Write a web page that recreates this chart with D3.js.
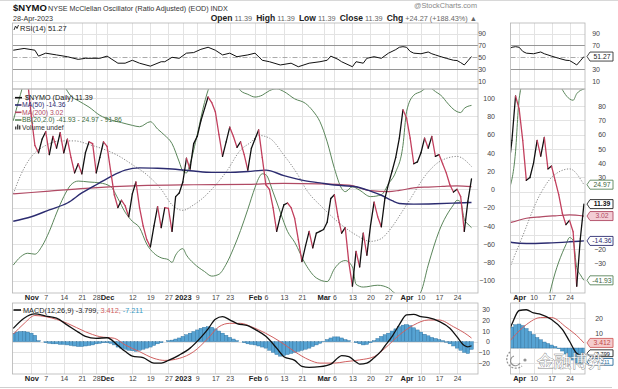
<!DOCTYPE html>
<html>
<head>
<meta charset="utf-8">
<script src="https://d3js.org/d3.v7.min.js"></script>
<style>
body { margin: 0; background: #fff; }
svg text { font-family: "Liberation Sans", Arial, sans-serif; }
</style>
</head>
<body>
<svg id="chart" width="618" height="389"></svg>
<script>
// day index: 0 = Nov 1 2022 (trading days), first value is Oct 25
var firstDay = -5;
var tickDays   = [0,4,9,14,18,21,28,33,38,42,46,51,55,62,65,70,75,81,84,89,94,99,104,108,113,118];
var tickLabels = ["Nov","7","14","21","28","Dec","12","19","27","2023","9","17","23","Feb","6","13","21","Mar","6","13","20","27","Apr","10","17","24"];
var monthLabels = ["Nov","Dec","2023","Feb","Mar","Apr"];

// $NYMO daily close
var nymo = [
  112,120,126,122,118,80,48,40,55,63,
  38,58,45,62,40,55,35,18,28,17,
  40,52,50,18,35,52,47,20,-6,-20,
  -12,-18,-30,-5,8,-20,-40,-55,-63,-40,
  -19,-42,-20,-21,-46,-8,-4,8,34,22,
  50,58,75,88,101,95,85,60,36,52,
  68,58,46,52,38,21,45,55,65,35,
  5,0,-20,-46,-30,-17,-15,-20,-32,-55,
  -79,-62,-46,-64,-48,-46,-44,-36,-10,-6,
  -30,-48,-42,-80,-106,-68,-85,-48,-72,-40,
  -14,-30,-41,-10,6,20,35,56,87,78,
  56,28,30,40,56,45,58,36,38,28,
  18,5,-3,0,-8,-46,-12.88,11.39
];

// indicator readings [day, value]
var ma50 = [[-5,-35],[0,-30],[5,-22.5],[10,-15],[14,-4],[18,5],[22,14],[26,21],[30,23.5],[35,23],[40,22],[45,20],[50,18.5],[55,18.5],[60,19.5],[65,21],[70,15],[75,10],[80,7],[84,4.7],[90,2.8],[94,-2],[97,-6.5],[100,-12.5],[102,-15.5],[106,-16.2],[112,-15.8],[118,-15],[122,-14.36]];
var ma200 = [[-5,-5],[5,-2],[15,1],[30,4],[45,5],[60,5.5],[70,6.5],[80,6],[88,4.5],[94,-1.5],[99,-2.5],[102,-1.2],[106,1.5],[110,2.5],[114,3.2],[118,3.8],[122,3.02]];
var bbUpper = [[-5,75],[-3,104],[-1,130],[1,148],[4,145],[7,128],[9,114],[11,102],[13,97],[16,90],[19,81],[22,76],[25,73],[28,70],[30,68.5],[33,74],[35,66],[37,59],[39,50],[41,30],[42,20],[43,18],[44,28],[46,60],[48,95],[50,118],[53,128],[56,120],[58,108],[60,104],[62,101],[64,103],[66,108],[68,110],[70,107],[73,99],[76,94],[78,86],[80,74],[82,52],[84,23],[86,1],[87,-2.6],[89,2.8],[91,-1],[94,-8],[97,-6],[99,6],[101,19],[103,48],[104,85],[106,103],[108,107],[110,112],[112,107],[114,101],[115,96],[118,85],[119,84],[120,88.6],[122,91.86]];
var bbMiddle = [[-5,-5],[-3,15],[-1,30],[1,40],[4,48],[8,53],[12,53],[16,49],[20,44],[24,37],[28,27],[32,16],[36,0],[39,-17],[42,-23],[45,-17],[48,-8],[50,0],[54,19],[58,43],[61,52],[63,59],[66,56],[70,37.5],[74,15],[76,1],[81,-21],[86,-39],[90,-50],[94,-57],[97,-54],[99,-46],[104,-17],[110,19],[113,30],[118,36],[122,24.97]];
var bbLower = [[-5,-83],[-3,-74],[-1,-70],[1,-71],[3,-62],[5,-46],[7,-26],[9,-8],[11,5],[13,9],[16,8],[19,7],[22,3],[24,-10],[26,-25],[28,-35],[30,-42],[32,-60],[34,-70],[36,-75],[38,-77],[39,-80],[40,-72],[42,-65],[43,-72],[45,-81],[48,-90],[50,-95],[52,-93],[54,-82],[56,-65],[58,-45],[60,-22],[62,2],[63,12],[64,17],[65,16],[67,-3],[69,-25],[71,-46],[73,-58],[76,-82],[79,-97],[82,-101],[84,-87],[86,-79],[87,-78],[89,-85],[90,-104],[92,-107],[96,-105],[99,-108],[101,-115],[104,-125],[106,-120],[108,-112],[110,-83],[113,-46],[117,-17],[118,-12],[119,-14],[120,-33],[121,-38],[122,-41.93]];
var rsi = [[-5,62],[-2,65],[1,62],[2,52],[4,57],[7,54],[10,51],[13,46.5],[15,48.3],[19,48.3],[21,52],[24,40],[26,40],[28,45],[30,40],[33,35],[36,42.5],[37,42.5],[39,50],[41,48.3],[43,57],[45,58],[47,63.5],[49,67],[51,62],[53,54],[55,57],[57,51],[60,54],[62,57],[64,45],[66,42.5],[69,37],[72,40],[74,34],[77,40],[80,42.5],[82,45],[83,52],[85,46.6],[86,42.5],[89,34],[90,42.5],[92,40],[93,48.3],[95,51],[97,48.3],[99,57],[101,63],[102,67],[103,68],[104,67],[105,60],[106,57],[108,56],[110,59],[111,56],[112,54],[113,52],[115,48.3],[117,45],[118,44.5],[119,41],[120,37],[121,44],[122,51.27]];
var macd = [[-5,12.5],[-2,22],[1,26],[4,24],[7,22],[10,15.5],[13,9],[15,5],[18,3.2],[21,3.7],[24,-3.5],[26,-9],[28,-13.5],[31,-15],[34,-20],[36,-20],[38,-17.5],[41,-12.5],[44,-6],[47,4],[49,12],[51,21],[53,23.4],[55,20.5],[57,17],[60,15],[62,11.5],[65,5],[68,-6],[70,-14],[73,-17.5],[75,-23],[77,-24],[80,-23.4],[83,-21],[85,-15],[86,-13],[88,-14],[90,-19],[91,-21],[93,-20],[95,-15],[97,-8.5],[98,-4],[100,5],[102,16],[104,25],[106,25.5],[108,23.4],[110,22.5],[113,19],[116,12.5],[118,4.5],[120,-3.5],[121,-4.8],[122,-3.799]];
var signal = [[-5,7],[-2,17],[1,24.5],[4,23.4],[10,17.2],[15,9.3],[19,4.7],[23,3.2],[26,-3],[30,-9.3],[34,-15.6],[37,-17.5],[41,-15.6],[45,-9.3],[49,3.2],[52,14],[55,17.2],[58,17.2],[61,14],[65,7.8],[69,0],[73,-9.3],[77,-17],[80,-20],[84,-20],[87,-18.7],[91,-17],[95,-14],[98,-6.2],[102,6.3],[106,15.6],[110,20.3],[113,20.3],[117,14],[121,6],[122,3.412]];
var hist = [
  8,9,9.5,9.5,9,8,6,1,0,-1,
  -1.5,-2,-2,-2.5,-2.5,-3,-3.5,-4,-4.5,-4.5,
  -4,-3.5,-3,-2,-1.5,-1,-1,-1.5,-3,-5,
  -6,-7,-8,-8.5,-9,-8,-7,-6,-5,-3.5,
  -2,-1,0,1,1.5,2.5,3.5,5,6.5,8,
  9.5,11,12.5,13.5,14,13.5,12,10,8,6,
  4,2.5,1,0,-1,-2,-2.5,-3,-4,-5,
  -6,-8,-10,-12,-13.5,-13,-12,-11,-10,-9,
  -8,-7,-6,-4.5,-3,-1.5,0.5,2,3.5,4.5,
  4.5,3.5,2,1,0,-1,-2,-3,-2.5,-1,
  1,3,5,6.5,8,10,12,14,15.5,16,
  15,13,11,9,7,5.5,4,3,2,1,
  -0.5,-2,-4,-6,-8,-10,-11,-7.211
];

var cRed = "#c2405e", cNavy = "#2c2c70", cMa200 = "#b04a64", cBB = "#5a855a";

var svg = d3.select("#chart");
var xLeft = d3.scaleLinear().domain([-5.21, 123.8]).range([12.5, 478]);
var xRight = d3.scaleLinear().domain([101.6, 122.3]).range([510.5, 585]);
var clipN = 0;

function makePanel(xs, top, bottom, domain) {
  var id = "clip" + (clipN++);
  var r = xs.range();
  svg.append("clipPath").attr("id", id).append("rect")
    .attr("x", r[0]).attr("y", top).attr("width", r[1] - r[0]).attr("height", bottom - top);
  var p = {x: xs, y: d3.scaleLinear().domain(domain).range([bottom, top]),
           x0: r[0], x1: r[1], top: top, bottom: bottom};
  p.grid = svg.append("g");
  p.g = svg.append("g").attr("clip-path", "url(#" + id + ")");
  return p;
}

function drawGrid(p, hvals) {
  p.grid.selectAll(".h").data(hvals).enter().append("line")
    .attr("x1", p.x0).attr("x2", p.x1)
    .attr("y1", function(d) { return Math.round(p.y(d)) + 0.5; })
    .attr("y2", function(d) { return Math.round(p.y(d)) + 0.5; })
    .attr("stroke", "#e3e3e3").attr("stroke-width", 1);
  var dom = p.x.domain();
  var vd = tickDays.filter(function(d) { return d >= dom[0] && d <= dom[1]; });
  p.grid.selectAll(".v").data(vd).enter().append("line")
    .attr("x1", function(d) { return Math.round(p.x(d)) + 0.5; })
    .attr("x2", function(d) { return Math.round(p.x(d)) + 0.5; })
    .attr("y1", p.top).attr("y2", p.bottom)
    .attr("stroke", "#e3e3e3").attr("stroke-width", 1);
}

function drawBorder(p) {
  svg.append("rect").attr("x", p.x0).attr("y", p.top)
    .attr("width", p.x1 - p.x0).attr("height", p.bottom - p.top)
    .attr("fill", "none").attr("stroke", "#b4b4b4").attr("stroke-width", 0.8);
}

function yLabels(p, vals, xr) {
  var ax = svg.append("g").attr("transform", "translate(" + xr + ",0)")
    .call(d3.axisRight(p.y).tickValues(vals).tickSize(0).tickPadding(0));
  ax.select(".domain").remove();
  ax.attr("font-family", "DejaVu Sans, sans-serif").attr("font-size", 7);
  ax.selectAll("text").attr("text-anchor", "end").attr("x", 0).attr("fill", "#444");
}

function xLabels(p, yy) {
  var dom = p.x.domain();
  var vd = tickDays.filter(function(d) { return d >= dom[0] && d <= dom[1]; });
  var ax = svg.append("g").attr("transform", "translate(0," + yy + ")")
    .call(d3.axisBottom(p.x).tickValues(vd).tickSize(0).tickPadding(2)
      .tickFormat(function(d) { return tickLabels[tickDays.indexOf(d)]; }));
  ax.select(".domain").remove();
  ax.attr("font-family", "Liberation Sans, Arial, sans-serif").attr("font-size", 7);
  ax.selectAll("text").attr("fill", "#444")
    .filter(function(d) { return monthLabels.indexOf(tickLabels[tickDays.indexOf(d)]) >= 0; })
    .attr("font-weight", "bold").attr("font-size", 7.5).attr("fill", "#222");
}

function seriesLine(p, pts, color, width, dash, curve) {
  var line = d3.line().x(function(d) { return p.x(d[0]); }).y(function(d) { return p.y(d[1]); })
    .curve(curve || d3.curveMonotoneX);
  p.g.append("path").datum(pts).attr("d", line).attr("fill", "none")
    .attr("stroke", color).attr("stroke-width", width).attr("stroke-dasharray", dash || null);
}

function drawMain(p) {
  seriesLine(p, bbUpper, cBB, 1);
  seriesLine(p, bbLower, cBB, 1);
  seriesLine(p, bbMiddle, "#777", 0.9, "1.2,1.6");
  seriesLine(p, ma200, cMa200, 1.2);
  seriesLine(p, ma50, cNavy, 1.4);
  var pts = nymo.map(function(v, k) { return [firstDay + k, v]; });
  p.g.selectAll(".seg").data(d3.pairs(pts)).enter().append("line")
    .attr("x1", function(d) { return p.x(d[0][0]); }).attr("y1", function(d) { return p.y(d[0][1]); })
    .attr("x2", function(d) { return p.x(d[1][0]); }).attr("y2", function(d) { return p.y(d[1][1]); })
    .attr("stroke", function(d) { return d[1][1] >= d[0][1] ? "#111" : cRed; })
    .attr("stroke-width", 1.3).attr("stroke-linecap", "round");
}

function drawRSI(p) {
  [70, 30].forEach(function(v) {
    p.g.append("line").attr("x1", p.x0).attr("x2", p.x1)
      .attr("y1", Math.round(p.y(v)) + 0.5).attr("y2", Math.round(p.y(v)) + 0.5)
      .attr("stroke", "#8a8a8a").attr("stroke-width", 0.9);
  });
  p.g.append("line").attr("x1", p.x0).attr("x2", p.x1)
    .attr("y1", Math.round(p.y(50)) + 0.5).attr("y2", Math.round(p.y(50)) + 0.5)
    .attr("stroke", "#a0a0a0").attr("stroke-width", 0.9).attr("stroke-dasharray", "5,2,1,2");
  seriesLine(p, rsi, "#111", 1, null, d3.curveLinear);
}

function drawMACD(p) {
  var w = p.x(1) - p.x(0);
  var hb = hist.map(function(v, k) { return [firstDay + k, v]; });
  p.g.selectAll(".bar").data(hb).enter().append("rect")
    .attr("x", function(d) { return p.x(d[0]) - w / 2; }).attr("width", w)
    .attr("y", function(d) { return p.y(Math.max(0, d[1])); })
    .attr("height", function(d) { return Math.abs(p.y(0) - p.y(d[1])); })
    .attr("fill", "#56a3d3").attr("stroke", "#2a6c9a").attr("stroke-width", 0.4);
  seriesLine(p, signal, "#d06060", 1);
  seriesLine(p, macd, "#111", 1.3);
}

// panels
var rsiL = makePanel(xLeft, 23, 89, [-3.7, 108.1]);
var rsiR = makePanel(xRight, 23, 89, [-3.7, 108.1]);
var mainL = makePanel(xLeft, 89, 293, [-113.5, 109.8]);
var mainR = makePanel(xRight, 89, 293, [-50.8, 91.9]);
var macdL = makePanel(xLeft, 303, 374, [-30.2, 36.2]);
var macdR = makePanel(xRight, 303, 374, [-17.3, 30]);

drawGrid(rsiL, [90, 10]); drawGrid(rsiR, [90, 10]);
drawGrid(mainL, d3.range(-100, 101, 20));
drawGrid(mainR, d3.range(-40, 81, 10));
drawGrid(macdL, d3.range(-20, 31, 10));
drawGrid(macdR, d3.range(-10, 21, 10));

drawRSI(rsiL); drawRSI(rsiR);
drawMain(mainL); drawMain(mainR);
drawMACD(macdL); drawMACD(macdR);

[rsiL, rsiR, mainL, mainR, macdL, macdR].forEach(drawBorder);

// right-panel labels that sit fully under a value tag are left out
yLabels(rsiL, [90, 70, 50, 30, 10], 486);
yLabels(rsiR, [90, 70, 30, 10], 600);
yLabels(mainL, d3.range(-100, 101, 20), 495);
yLabels(mainR, [80, 70, 60, 50, 40, 30, -20, -30], 606);
yLabels(macdL, d3.range(-20, 31, 10), 490);
yLabels(macdR, [20, 10], 603);

xLabels(mainL, 293); xLabels(mainR, 293);
xLabels(macdL, 374); xLabels(macdR, 374);

// value tags on the right panels
function tag(p, v, text, stroke, fill, color, bold, dy, hh, fs) {
  var x = 587, y = p.y(v) + (dy || 0), h = hh || 4.5;
  svg.append("path")
    .attr("d", "M" + x + "," + y + "L" + (x + 3) + "," + (y - h) + "L" + (x + 26) + "," + (y - h) +
      "L" + (x + 26) + "," + (y + h) + "L" + (x + 3) + "," + (y + h) + "Z")
    .attr("fill", fill).attr("stroke", stroke).attr("stroke-width", 0.9);
  svg.append("text").attr("x", x + 15).attr("y", y + 2.4).attr("text-anchor", "middle")
    .attr("font-family", "DejaVu Sans, sans-serif").attr("font-size", fs || 6.8)
    .attr("font-weight", bold ? "bold" : null).attr("fill", color).text(text);
}
tag(rsiR, 51.27, "51.27", "#333", "#fff", "#222");
tag(mainR, 24.97, "24.97", cBB, "#fff", "#3d663d");
tag(mainR, 3.02, "3.02", cMa200, "#f3cdd5", "#b04a64");
tag(mainR, 11.39, "11.39", "#222", "#fff", "#111", true);
tag(mainR, -14.36, "-14.36", cNavy, "#fff", cNavy);
tag(mainR, -41.93, "-41.93", cBB, "#fff", "#3d663d");
tag(macdR, 3.412, "3.412", "#d06060", "#f5cccc", "#c04848");
tag(macdR, -3.799, "-3.799", "#222", "#fff", "#111", false, -0.5, 3.4, 5.6);
tag(macdR, -7.211, "-7.211", "#2a6c9a", "#fff", "#2a6c9a", false, 3, 3.4, 5.6);

// header
svg.append("line").attr("x1", 0).attr("x2", 618).attr("y1", 0.5).attr("y2", 0.5).attr("stroke", "#d8d8d8");
svg.append("text").attr("x", 13).attr("y", 10.5).attr("font-size", 9.5).attr("font-weight", "bold").attr("fill", "#111").text("$NYMO");
svg.append("text").attr("x", 48).attr("y", 10.5).attr("font-size", 7.2).attr("fill", "#333")
  .text("NYSE McClellan Oscillator (Ratio Adjusted) (EOD) INDX");
svg.append("text").attr("x", 13).attr("y", 20.5).attr("font-size", 7.2).attr("fill", "#333").text("28-Apr-2023");
svg.append("text").attr("x", 477).attr("y", 8).attr("font-size", 7.3).attr("fill", "#888")
  .attr("text-anchor", "end").text("@StockCharts.com");
var ohlc = svg.append("text").attr("x", 477).attr("y", 20.5).attr("text-anchor", "end");
[["Open", " 11.39  "], ["High", " 11.39  "], ["Low", " 11.39  "], ["Close", " 11.39  "], ["Chg", " +24.27 (+188.43%) \u25B2"]]
  .forEach(function(p) {
    ohlc.append("tspan").attr("font-size", 8.5).attr("font-weight", "bold").attr("fill", "#222").text(p[0]);
    ohlc.append("tspan").attr("font-size", 7.3).attr("fill", "#666").attr("xml:space", "preserve").text(p[1]);
  });

// RSI legend
svg.append("path").attr("d", "M14,30 L15.5,26 L17,28.5 L18.5,25").attr("fill", "none").attr("stroke", "#333").attr("stroke-width", 1);
svg.append("text").attr("x", 20).attr("y", 30.5).attr("font-family", "DejaVu Sans Mono, monospace")
  .attr("font-size", 7.5).attr("fill", "#222").text("RSI(14) 51.27");

// main legend
var legend = [
  {t: "$NYMO (Daily) 11.39", c: "#111", mono: true, y: 97.7},
  {t: "MA(50) -14.36", c: cNavy, y: 105},
  {t: "MA(200) 3.02", c: cMa200, y: 112.3},
  {t: "BB(20,2.0) -41.93 - 24.97 - 91.86", c: "#3d6a3d", lc: cBB, y: 120},
  {t: "Volume undef", c: "#333", bars: true, y: 127.5}
];
legend.forEach(function(d) {
  if (d.bars) {
    [[15, 3], [17, 5], [19, 4]].forEach(function(b) {
      svg.append("rect").attr("x", b[0]).attr("y", d.y + 2 - b[1]).attr("width", 1.4).attr("height", b[1]).attr("fill", "#444");
    });
  } else {
    svg.append("line").attr("x1", 15).attr("x2", d.mono ? 22 : 21.5).attr("y1", d.y).attr("y2", d.y)
      .attr("stroke", d.lc || d.c).attr("stroke-width", 1.6);
  }
  svg.append("text").attr("x", d.mono ? 25 : 22).attr("y", d.y + 2.4)
    .attr("font-family", d.mono ? "DejaVu Sans Mono, monospace" : "Liberation Sans, Arial, sans-serif")
    .attr("font-size", d.mono ? 7.2 : 6.8).attr("fill", d.c).text(d.t);
});

// MACD legend
svg.append("line").attr("x1", 13.5).attr("x2", 21).attr("y1", 310).attr("y2", 310).attr("stroke", "#111").attr("stroke-width", 1.6);
var ml = svg.append("text").attr("x", 23).attr("y", 312.6).attr("font-family", "DejaVu Sans Mono, monospace").attr("font-size", 7.3);
ml.append("tspan").attr("fill", "#222").text("MACD(12,26,9) -3.799,");
ml.append("tspan").attr("fill", "#d06060").text(" 3.412,");
ml.append("tspan").attr("fill", "#3a9ac4").text(" -7.211");

// bottom rule
svg.append("line").attr("x1", 0).attr("x2", 612).attr("y1", 387.5).attr("y2", 387.5).attr("stroke", "#cfcfcf");

// watermark
var wm = svg.append("g").attr("opacity", 0.9);
wm.append("path").attr("d", "M510,352 A9,9 0 1,0 522,366").attr("fill", "none").attr("stroke", "#888").attr("stroke-width", 1.3).attr("stroke-dasharray", "2,1.5");
wm.append("path").attr("d", "M514,356 A5,5 0 1,0 520,363").attr("fill", "none").attr("stroke", "#888").attr("stroke-width", 1.2);
wm.append("circle").attr("cx", 525).attr("cy", 360).attr("r", 1.6).attr("fill", "#888");
wm.append("text").attr("x", 537).attr("y", 367).attr("font-family", "Noto Sans CJK SC, sans-serif")
  .attr("font-size", 16.5).attr("fill", "#fff").attr("stroke", "#777").attr("stroke-width", 0.8)
  .attr("paint-order", "stroke").text("金融博弈");
</script>
</body>
</html>
